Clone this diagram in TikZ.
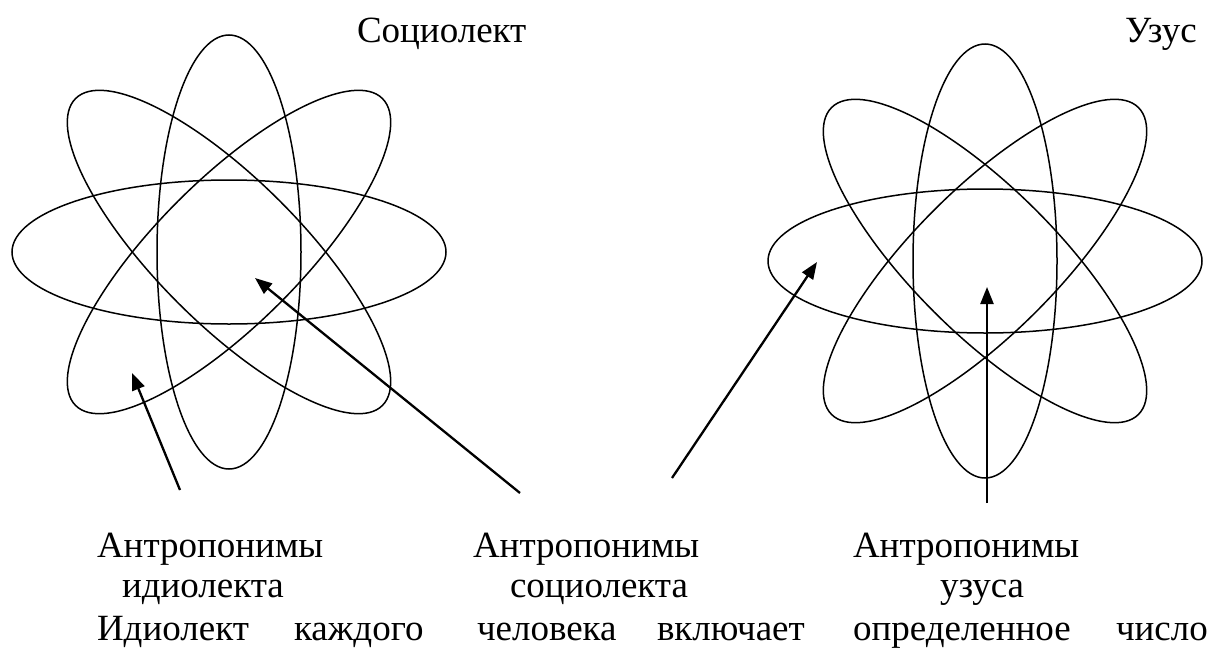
\documentclass[tikz,border=0pt]{standalone}
\usepackage{fontspec}
\setmainfont{Liberation Serif}
\usetikzlibrary{arrows.meta}
\tikzset{
  orbit/.style={draw=black, line width=1.5pt},
  pointer/.style={draw=black, line width=2.3pt, -{Triangle[length=17pt,width=13pt]}},
  lbl/.style={anchor=base west, inner sep=0pt, outer sep=0pt, font=\fontsize{37}{42}\selectfont}
}
\begin{document}
\begin{tikzpicture}[x=1pt,y=-1pt]
\useasboundingbox (0,0) rectangle (1215,648);
% left atom
\coordinate (L) at (229,252);
\foreach \a in {0,45,90,135}
  \draw[orbit, rotate around={\a:(L)}] (L) ellipse [x radius=217pt, y radius=72pt];
% right atom
\coordinate (R) at (985,261);
\foreach \a in {0,45,90,135}
  \draw[orbit, rotate around={\a:(R)}] (R) ellipse [x radius=217pt, y radius=72pt];
% titles
\node[lbl] (soc) at (357,42) {Социолект};
\node[lbl] (uzus) at (1125,42) {Узус};
% labels
\node[lbl] (a1) at (97,557) {Антропонимы};
\node[lbl] (b1) at (122,597) {идиолекта};
\node[lbl] (a2) at (473,557) {Антропонимы};
\node[lbl] (b2) at (510,597) {социолекта};
\node[lbl] (a3) at (853,557) {Антропонимы};
\node[lbl] (b3) at (940,597) {узуса};
% last line
\node[lbl] (w1) at (97,640) {Идиолект};
\node[lbl] (w2) at (294,640) {каждого};
\node[lbl] (w3) at (477,640) {человека};
\node[lbl] (w4) at (657,640) {включает};
\node[lbl] (w5) at (853,640) {определенное};
\node[lbl] (w6) at (1116,640) {число};
% arrows
\coordinate (t1) at (180,490);
\coordinate (h1) at (132,373);
\coordinate (t2) at (520,493);
\coordinate (h2) at (255,278);
\coordinate (t3) at (672,478);
\coordinate (h3) at (817,262);
\coordinate (t4) at (987,503);
\coordinate (h4) at (987,287);
\draw[pointer] (t1) -- (h1);
\draw[pointer] (t2) -- (h2);
\draw[pointer] (t3) -- (h3);
\draw[pointer] (t4) -- (h4);
\end{tikzpicture}
\end{document}
